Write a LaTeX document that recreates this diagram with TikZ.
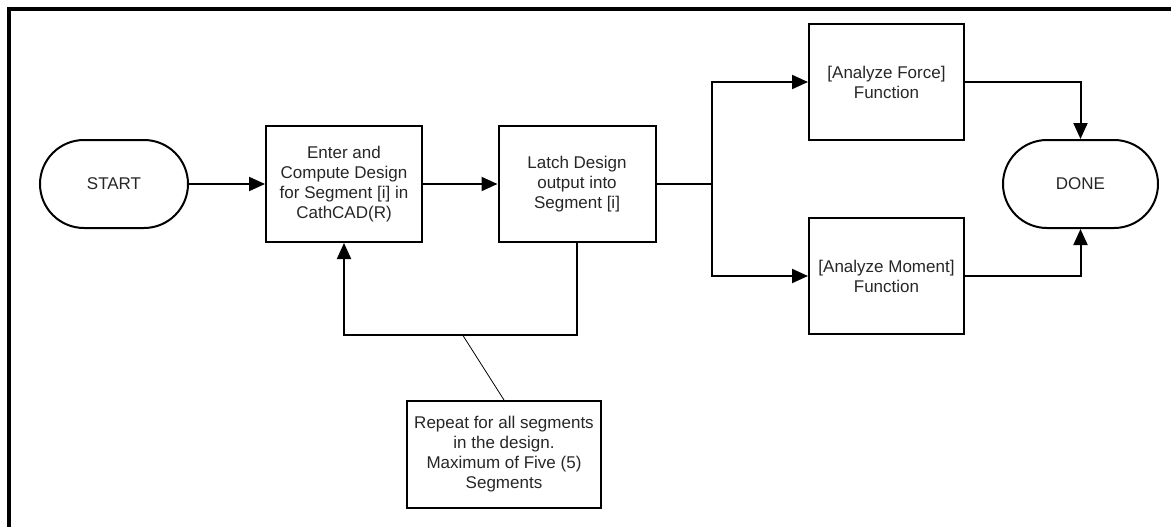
\documentclass[tikz,border=0pt]{standalone}
\usepackage{fontspec}
\setmainfont{Liberation Sans}
\usetikzlibrary{arrows.meta}
\begin{document}
\begin{tikzpicture}[x=1pt,y=-1pt,
  box/.style={draw, line width=2pt, align=center, inner sep=0pt,
    text=black!85, font=\fontsize{17}{20}\selectfont},
  term/.style={box, rounded corners=44pt},
  flow/.style={line width=2pt, -{Triangle[length=16pt,width=14pt]}},
  wire/.style={line width=2pt},
  frame/.style={line width=3.3pt},
  callout/.style={line width=0.8pt}]
\useasboundingbox (0,0) rectangle (1171,527);
\draw[frame] (9,527) -- (9,9) -- (1171,9);

\node[term, minimum width=148pt, minimum height=88pt] (start) at (114,184) {START};
\node[box, minimum width=156pt, minimum height=116pt] (box1) at (344,184)
  {Enter and\\Compute Design\\for Segment [i] in\\CathCAD(R)};
\node[box, minimum width=157pt, minimum height=116pt] (box2) at (577,184)
  {Latch Design\\output into\\Segment [i]};
\node[box, minimum width=155pt, minimum height=116pt] (force) at (886.5,82)
  {[Analyze Force]\\Function};
\node[box, minimum width=155pt, minimum height=116pt] (moment) at (886.5,276)
  {[Analyze Moment]\\Function};
\node[term, minimum width=155pt, minimum height=88pt] (done) at (1080.5,184) {DONE};
\node[box, minimum width=194pt, minimum height=107pt] (note) at (504,454.5)
  {Repeat for all segments\\in the design.\\Maximum of Five (5)\\Segments};

\coordinate (j) at (712,184);
\coordinate (a) at (462,334);

\draw[flow] (start) -- (box1);
\draw[flow] (box1) -- (box2);
\draw[wire] (box2.east) -- (j);
\draw[flow] (j) |- (force.west);
\draw[flow] (j) |- (moment.west);
\draw[flow] (force.east) -| (done.north);
\draw[flow] (moment.east) -| (done.south);
\draw[flow] (box2.south) -- ++(0,92) -| (box1.south);
\draw[callout] (a) -- (note.north);
\end{tikzpicture}
\end{document}
